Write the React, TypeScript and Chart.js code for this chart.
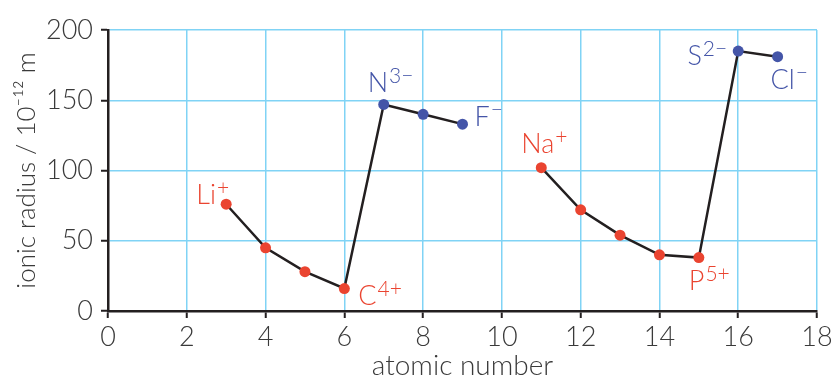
import React, { useEffect, useRef } from 'react';
import { Chart, registerables } from 'chart.js';

Chart.register(...registerables);

const atomicNumbers = [3, 4, 5, 6, 7, 8, 9, 10, 11, 12, 13, 14, 15, 16, 17];
const ionicRadii: (number | null)[] = [76, 45, 28, 16, 147, 140, 133, null, 102, 72, 54, 40, 38, 185, 181];
const ionKinds = ['cation', 'cation', 'cation', 'cation', 'anion', 'anion', 'anion', '', 'cation', 'cation', 'cation', 'cation', 'cation', 'anion', 'anion'];
const ionSymbols = ['Li', '', '', 'C', 'N', '', 'F', '', 'Na', '', '', '', 'P', 'S', 'Cl'];
const ionCharges = ['+', '', '', '4+', '3−', '', '−', '', '+', '', '', '', '5+', '2−', '−'];

const xTickValues = [0, 2, 4, 6, 8, 10, 12, 14, 16, 18];
const yTickValues = [0, 50, 100, 150, 200];

const xTitle = 'atomic number';
const yTitle = 'ionic radius / 10⁻¹² m';

const RED = '#ea4430';
const BLUE = '#4455a8';
const INK = '#231f20';
const GRID = '#80d3f5';
const TEXT = '#3a3a3a';
const FONT = 'Lato, "Noto Sans", sans-serif';

// placement of the ion labels relative to their point (style only)
const labelPlacement: Record<string, { align: 'left' | 'right'; dx: number; dy: number }> = {
  Li: { align: 'right', dx: 3, dy: 0 },
  C: { align: 'left', dx: 14, dy: 16 },
  N: { align: 'left', dx: -16, dy: -12 },
  F: { align: 'left', dx: 12, dy: 2 },
  Na: { align: 'left', dx: -20, dy: -15 },
  P: { align: 'left', dx: -10, dy: 32 },
  S: { align: 'right', dx: -11, dy: 14 },
  Cl: { align: 'left', dx: -7, dy: 32 },
};

const ionLabelPlugin = {
  id: 'ionLabels',
  afterDatasetsDraw(chart: any) {
    const ctx = chart.ctx as CanvasRenderingContext2D;
    const meta = chart.getDatasetMeta(0);
    ctx.save();
    ctx.textBaseline = 'alphabetic';
    ctx.textAlign = 'left';
    ionSymbols.forEach((sym, i) => {
      if (!sym) return;
      const pt = meta.data[i];
      if (!pt) return;
      const place = labelPlacement[sym];
      const color = ionKinds[i] === 'anion' ? BLUE : RED;
      ctx.fillStyle = color;
      const mainFont = `300 27px ${FONT}`;
      const supFont = `300 21px ${FONT}`;
      ctx.font = mainFont;
      const wMain = ctx.measureText(sym).width;
      ctx.font = supFont;
      const wSup = ctx.measureText(ionCharges[i]).width;
      const total = wMain + 1 + wSup;
      let x0 = pt.x + place.dx;
      if (place.align === 'right') x0 -= total;
      const y0 = pt.y + place.dy;
      ctx.font = mainFont;
      ctx.fillText(sym, x0, y0);
      ctx.font = supFont;
      ctx.fillText(ionCharges[i], x0 + wMain + 1, y0 - 9);
    });
    ctx.restore();
  },
};

export default function App() {
  const canvasRef = useRef<HTMLCanvasElement | null>(null);

  useEffect(() => {
    const canvas = canvasRef.current;
    if (!canvas) return;
    const points = atomicNumbers.map((x, i) => ({ x, y: ionicRadii[i] }));
    const pointColors = ionKinds.map((k) => (k === 'anion' ? BLUE : RED));

    const chart = new Chart(canvas, {
      type: 'line',
      data: {
        datasets: [
          {
            data: points as any,
            borderColor: INK,
            borderWidth: 2.5,
            pointBackgroundColor: pointColors,
            pointBorderWidth: 0,
            pointRadius: 5.5,
            pointHoverRadius: 5.5,
            spanGaps: false,
            tension: 0,
          },
        ],
      },
      options: {
        responsive: false,
        animation: false,
        layout: { padding: { left: 0, right: 15, top: 30, bottom: 0 } },
        plugins: {
          legend: { display: false },
          tooltip: { enabled: false },
        },
        scales: {
          x: {
            type: 'linear',
            min: 0,
            max: 18,
            afterBuildTicks: (scale: any) => {
              scale.ticks = xTickValues.map((v) => ({ value: v }));
            },
            afterFit: (scale: any) => {
              scale.height = 65;
              scale.paddingRight = 0;
              scale.paddingLeft = 0;
            },
            grid: {
              color: GRID,
              lineWidth: 1.5,
              tickColor: INK,
              tickLength: 7,
              tickWidth: 2,
            },
            border: { color: INK, width: 2.5 },
            ticks: {
              color: TEXT,
              font: { family: FONT, size: 27, weight: '300' as any },
              padding: 3,
              maxRotation: 0,
              autoSkip: false,
            },
            title: {
              display: true,
              text: xTitle,
              color: TEXT,
              font: { family: FONT, size: 28, weight: '300' as any },
              padding: { top: 0, bottom: -7 },
            },
          },
          y: {
            type: 'linear',
            min: 0,
            max: 200,
            afterBuildTicks: (scale: any) => {
              scale.ticks = yTickValues.map((v) => ({ value: v }));
            },
            afterFit: (scale: any) => {
              scale.width = 108;
            },
            grid: {
              color: GRID,
              lineWidth: 1.5,
              tickColor: INK,
              tickLength: 7,
              tickWidth: 2,
            },
            border: { color: INK, width: 2.5 },
            ticks: {
              color: TEXT,
              font: { family: FONT, size: 27, weight: '300' as any },
              padding: 8,
              autoSkip: false,
            },
            title: {
              display: true,
              text: yTitle,
              color: TEXT,
              font: { family: FONT, size: 26, weight: '300' as any },
              padding: { top: 11, bottom: 0 },
            },
          },
        },
      },
      plugins: [ionLabelPlugin],
    });
    return () => chart.destroy();
  }, []);

  return (
    <div style={{ position: 'fixed', left: 0, top: 0, width: 832, height: 376, background: '#fff' }}>
      <canvas ref={canvasRef} width={832} height={376} />
    </div>
  );
}
